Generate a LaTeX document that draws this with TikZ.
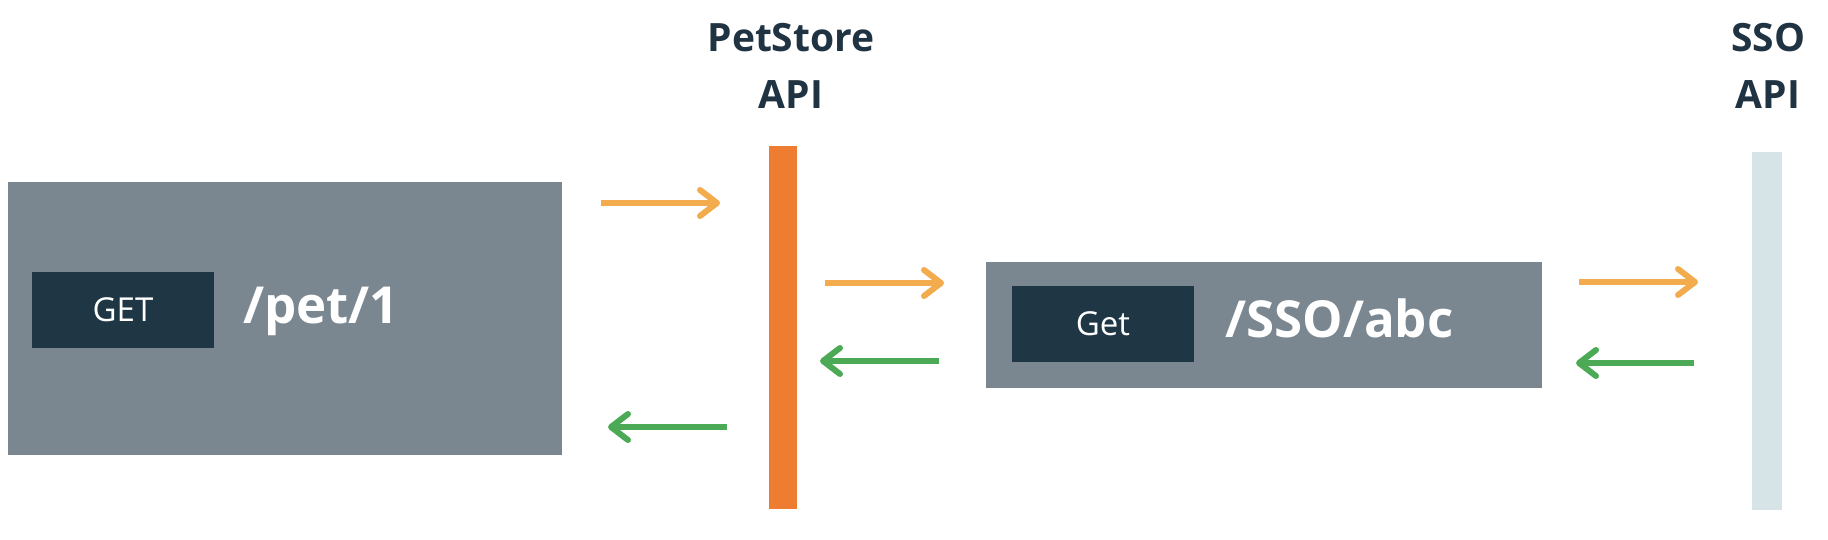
\documentclass[tikz,border=0pt]{standalone}
\usepackage{fontspec}
\setmainfont{Open Sans}
\usetikzlibrary{arrows.meta}

\definecolor{panelgray}{HTML}{7A8790}
\definecolor{verbnavy}{HTML}{1F3645}
\definecolor{labelink}{HTML}{1F3342}
\definecolor{callorange}{HTML}{F2AC4E}
\definecolor{replygreen}{HTML}{4CAA56}
\definecolor{petbarorange}{HTML}{EE7D32}
\definecolor{ssobarblue}{HTML}{D6E4E8}

\tikzset{
	panel/.style={fill=panelgray, inner sep=0pt},
	verb/.style={fill=verbnavy, text=white, inner sep=0pt, minimum width=182pt, minimum height=76pt, font=\fontsize{33}{38}\selectfont},
	route/.style={text=white, inner sep=0pt, anchor=base west, font=\bfseries\fontsize{51}{60}\selectfont},
	apibar/.style={inner sep=0pt},
	apilabel/.style={text=labelink, inner sep=0pt, anchor=north, align=center, font=\bfseries\fontsize{39}{57}\selectfont},
	call/.style={draw=callorange, line width=6pt, -{Straight Barb[length=17pt,width=26pt,round]}},
	reply/.style={draw=replygreen, line width=6pt, -{Straight Barb[length=17pt,width=26pt,round]}}
}

\begin{document}
\begin{tikzpicture}[x=1pt,y=-1pt]
	\useasboundingbox (0,0) rectangle (1828,540);
	
	% Request boxes
	\node[panel, minimum width=554pt, minimum height=273pt] (PetBox) at (285,318.5) {};
	\node[verb] (PetVerb) at (123,310) {GET};
	\node[route] (PetRoute) at (243,323) {/pet/1};
	
	\node[panel, minimum width=556pt, minimum height=126pt] (SSOBox) at (1264,325) {};
	\node[verb] (SSOVerb) at (1103,324) {Get};
	\node[route] (SSORoute) at (1225,337) {/SSO/abc};
	
	% API bars and their labels
	\node[apibar, fill=petbarorange, minimum width=28pt, minimum height=363pt] (PetBar) at (783,327.5) {};
	\node[apibar, fill=ssobarblue, minimum width=30pt, minimum height=358pt] (SSOBar) at (1767,331) {};
	\node[apilabel] (PetLabel) at (791,23) {PetStore\\API};
	\node[apilabel] (SSOLabel) at (1768,23) {SSO\\API};
	
	% Arrow end points
	\coordinate (C1) at ( 601, 203);
	\coordinate (C2) at ( 720, 203);
	\coordinate (C3) at ( 825, 283);
	\coordinate (C4) at ( 944, 283);
	\coordinate (C5) at (1579, 282);
	\coordinate (C6) at (1698, 282);
	\coordinate (R1) at (1694, 363);
	\coordinate (R2) at (1576, 363);
	\coordinate (R3) at ( 939, 361);
	\coordinate (R4) at ( 820, 361);
	\coordinate (R5) at ( 727, 427);
	\coordinate (R6) at ( 608, 427);
	
	\draw[call] (C1) -- (C2);
	\draw[call] (C3) -- (C4);
	\draw[call] (C5) -- (C6);
	\draw[reply] (R1) -- (R2);
	\draw[reply] (R3) -- (R4);
	\draw[reply] (R5) -- (R6);
	
\end{tikzpicture}
\end{document}
